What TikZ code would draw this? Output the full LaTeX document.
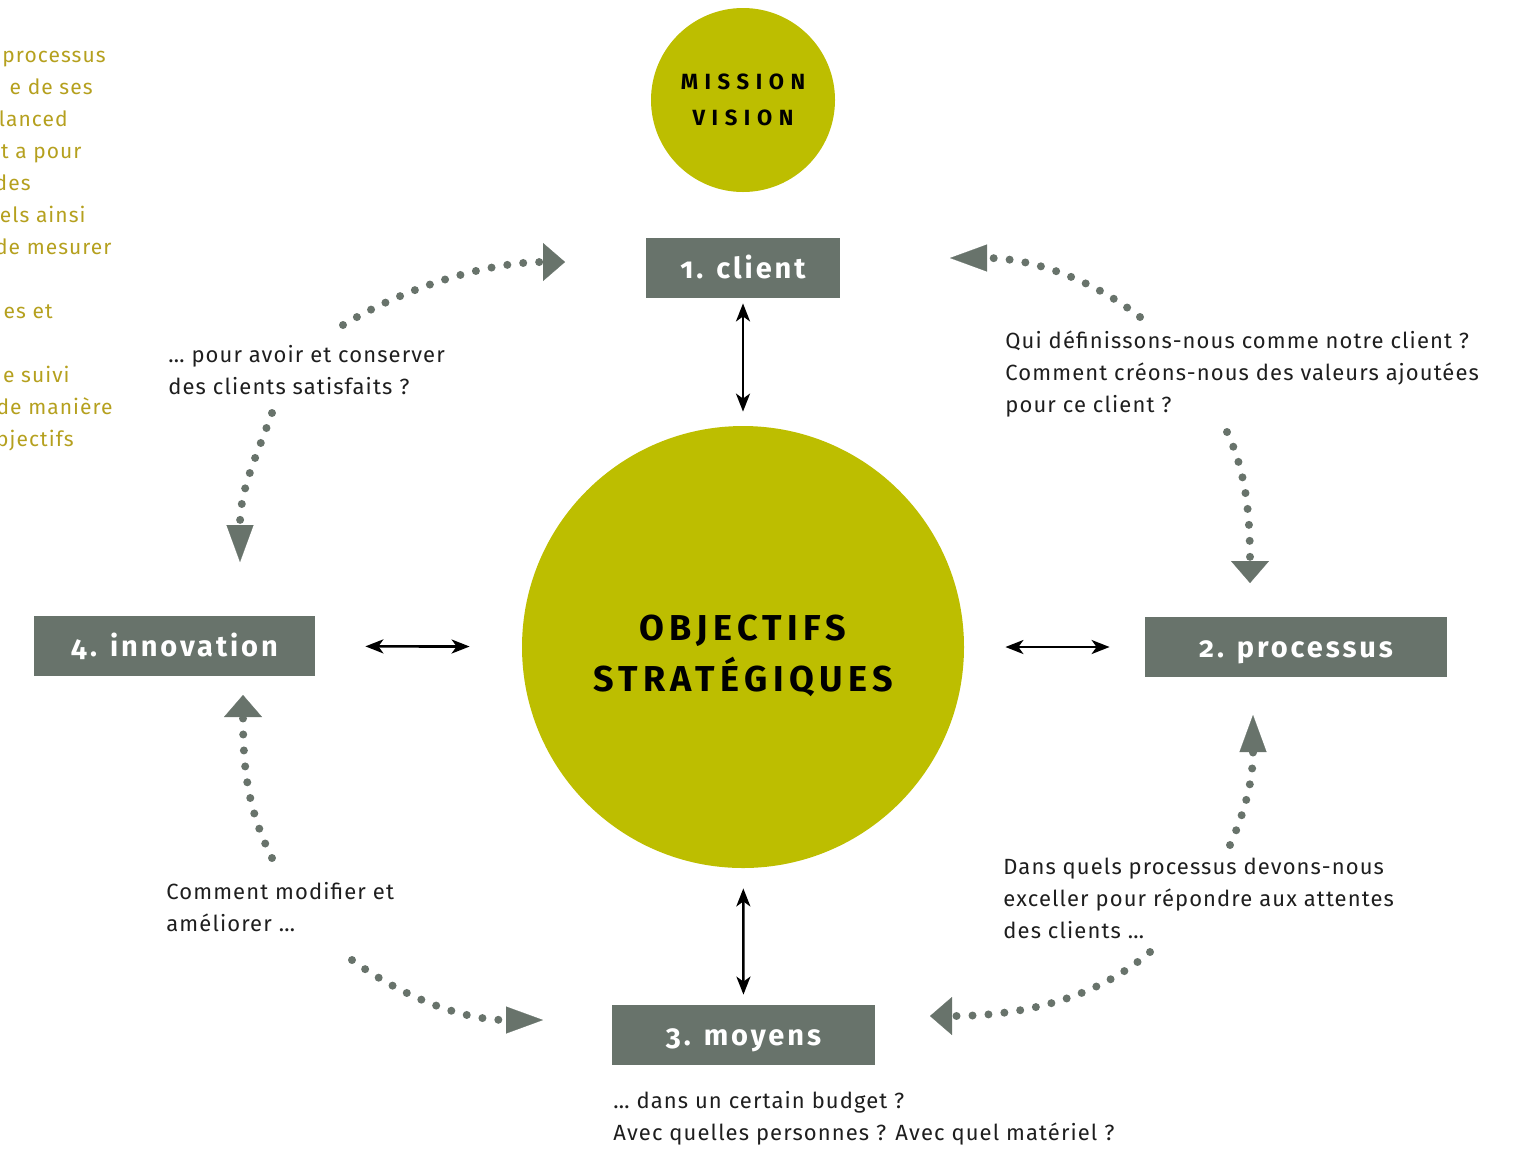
\documentclass[tikz,border=0pt]{standalone}
\usepackage{fontspec}
\setmainfont[LetterSpace=5]{Fira Sans}
\newfontfamily\boxfont[Numbers=OldStyle,LetterSpace=10]{Fira Sans}
\newfontfamily\capsfont[LetterSpace=30]{Fira Sans}
\newfontfamily\bigcapsfont[LetterSpace=15]{Fira Sans}
\usetikzlibrary{arrows.meta}

\definecolor{olive}{RGB}{189,190,0}
\definecolor{slate}{RGB}{104,115,107}
\definecolor{gold}{RGB}{181,160,30}
\definecolor{ink}{RGB}{30,30,30}

\tikzset{
	stage/.style={fill=slate, text=white, minimum height=30pt, inner sep=0pt,
		text height=12pt, text depth=2pt,
		font=\boxfont\bfseries\fontsize{14.5}{14.5}\selectfont},
	question/.style={align=left, anchor=north west, inner sep=0pt, text=ink,
		font=\fontsize{11}{16}\selectfont},
	margin/.style={anchor=base east, inner sep=0pt, text=gold,
		font=\fontsize{10.5}{16}\selectfont},
	link/.style={{Stealth[length=9pt,width=7pt,inset=2.5pt]}-{Stealth[length=9pt,width=7pt,inset=2.5pt]}, line width=1.3pt},
	flow/.style={draw=slate, line width=4pt, line cap=round, dash pattern=on 0pt off 8pt,
		-{Triangle[length=11pt,width=19pt,line width=0.1pt]}},
	longflow/.style={flow, -{Triangle[length=18.5pt,width=13.5pt,line width=0.1pt]}}
}

\begin{document}
\begin{tikzpicture}[x=0.5pt, y=-0.5pt]
	\useasboundingbox (0,0) rectangle (1519,1148);

	% text cut at the left margin
	\foreach \y/\x/\t in {55/106/processus, 87/93/e de ses, 119/68/lanced, 151/82/t a pour,
		183/31/des, 215/86/els ainsi, 247/112/de mesurer, 311/53/es et,
		375/70/e suivi, 407/113/de manière, 439/74/bjectifs}
		\node[margin] (m\y) at (\x,\y+7) {\t};

	% circles
	\node[circle, fill=olive, minimum size=92pt, inner sep=0pt, align=center,
		font=\capsfont\bfseries\fontsize{11}{18}\selectfont] (mission) at (743,100) {MISSION\\VISION};
	\node[circle, fill=olive, minimum size=221pt, inner sep=0pt] (objectifs) at (743,647) {};
	\node[align=center, inner sep=0pt, font=\bigcapsfont\bfseries\fontsize{18}{25.5}\selectfont]
		(objectifs-text) at (743,656) {OBJECTIFS\\STRATÉGIQUES};

	% the four boxes
	\node[stage, minimum width=97pt] (client) at (743,268) {1. client};
	\node[stage, minimum width=151pt] (processus) at (1296,647) {2. processus};
	\node[stage, minimum width=131.5pt] (moyens) at (743.5,1035) {3. moyens};
	\node[stage, minimum width=140.5pt] (innovation) at (174.5,646) {4. innovation};

	\draw[link, shorten <=2.5pt, shorten >=7pt] (client) -- (objectifs);
	\draw[link, shorten <=10pt, shorten >=5pt] (objectifs) -- (moyens);
	\draw[link, shorten <=25pt, shorten >=26pt] (innovation) -- (objectifs);
	\draw[link, shorten <=20.5pt, shorten >=17.5pt] (objectifs) -- (processus);

	% questions
	\node[question] (q-client) at (1005,330) {Qui définissons-nous comme notre client ?\\Comment créons-nous des valeurs ajoutées\\pour ce client ?};
	\node[question] (q-processus) at (1003,858) {Dans quels processus devons-nous\\exceller pour répondre aux attentes\\des clients …};
	\node[question] (q-moyens) at (613,1091) {… dans un certain budget ?\\Avec quelles personnes ? Avec quel matériel ?};
	\node[question] (q-innovation) at (166,882) {Comment modifier et\\améliorer …};
	\node[question] (q-satisfaits) at (168,345) {… pour avoir et conserver\\des clients satisfaits ?};

	% dotted arrows
	\coordinate (tl-a) at (343,325); \coordinate (tl-b) at (565,262);
	\coordinate (tr-a) at (1140,317); \coordinate (tr-b) at (950,258);
	\coordinate (lu-a) at (272,413); \coordinate (lu-b) at (240,562);
	\coordinate (ru-a) at (1227,432); \coordinate (ru-b) at (1250,583);
	\coordinate (rl-a) at (1230,845); \coordinate (rl-b) at (1253,715);
	\coordinate (ll-a) at (272,858); \coordinate (ll-b) at (243,695);
	\coordinate (bl-a) at (352,960); \coordinate (bl-b) at (543,1020);
	\coordinate (br-a) at (1150,952); \coordinate (br-b) at (930,1016);

	\draw[flow] (tl-a) .. controls (410,285) and (490,262) .. (tl-b);
	\draw[longflow] (tr-a) .. controls (1090,278) and (1030,258) .. (tr-b);
	\draw[longflow] (lu-a) .. controls (255,460) and (240,490) .. (lu-b);
	\draw[flow] (ru-a) .. controls (1245,470) and (1250,510) .. (ru-b);
	\draw[longflow] (rl-a) .. controls (1250,800) and (1253,770) .. (rl-b);
	\draw[flow] (ll-a) .. controls (248,810) and (243,770) .. (ll-b);
	\draw[longflow] (bl-a) .. controls (400,995) and (460,1020) .. (bl-b);
	\draw[flow] (br-a) .. controls (1100,995) and (1030,1016) .. (br-b);
\end{tikzpicture}
\end{document}
